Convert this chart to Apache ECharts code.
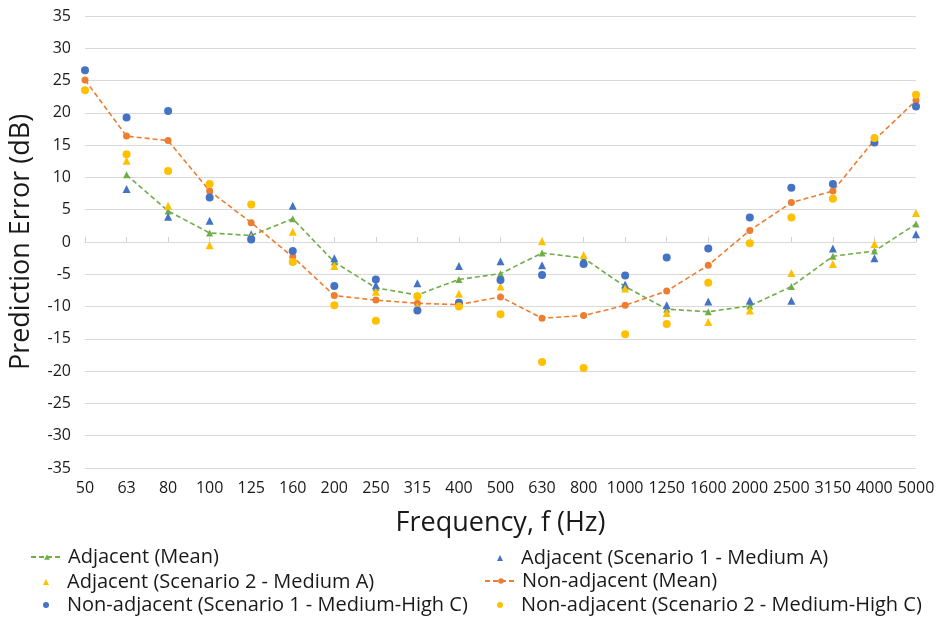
<!DOCTYPE html>
<html>
<head>
<meta charset="utf-8">
<script src="https://cdn.jsdelivr.net/npm/echarts@6/dist/echarts.min.js"></script>
<style>
  html, body { margin: 0; padding: 0; background: #fff; }
  #main { width: 938px; height: 619px; }
</style>
</head>
<body>
<div id="main"></div>
<script>
// 1/3 倍频程中心频率
var freqs = ['50', '63', '80', '100', '125', '160', '200', '250', '315', '400', '500',
    '630', '800', '1000', '1250', '1600', '2000', '2500', '3150', '4000', '5000'];

var adjMean = ['-', 10.4, 4.8, 1.4, 1.0, 3.6, -3.1, -7.1, -8.2, -5.8, -4.9,
    -1.7, -2.5, -6.9, -10.4, -10.8, -9.9, -6.9, -2.2, -1.4, 2.8];
var adjS1 = ['-', 8.2, 3.9, 3.3, 1.2, 5.6, -2.5, -6.7, -6.4, -3.7, -3.0,
    -3.6, -3.0, -6.6, -9.8, -9.2, -9.1, -9.1, -1.0, -2.5, 1.2];
var adjS2 = ['-', 12.6, 5.6, -0.5, 0.8, 1.6, -3.7, -7.7, -10.0, -8.0, -6.9,
    0.1, -2.0, -7.2, -11.0, -12.4, -10.6, -4.8, -3.4, -0.3, 4.5];
var nonMean = [25.1, 16.4, 15.7, 7.9, 3.0, -2.3, -8.3, -9.0, -9.5, -9.7, -8.5,
    -11.8, -11.4, -9.8, -7.6, -3.6, 1.8, 6.1, 7.9, 15.8, 21.9];
var nonS1 = [26.6, 19.3, 20.3, 6.9, 0.4, -1.4, -6.8, -5.8, -10.6, -9.4, -5.9,
    -5.1, -3.4, -5.2, -2.4, -1.0, 3.8, 8.4, 9.0, 15.4, 21.0];
var nonS2 = [23.5, 13.6, 11.0, 9.0, 5.8, -3.1, -9.8, -12.2, -8.4, -10.0, -11.2,
    -18.6, -19.5, -14.3, -12.7, -6.3, -0.2, 3.8, 6.7, 16.1, 22.8];

var names = [
    'Adjacent (Mean)',
    'Adjacent (Scenario 1 - Medium A)',
    'Adjacent (Scenario 2 - Medium A)',
    'Non-adjacent (Mean)',
    'Non-adjacent (Scenario 1 - Medium-High C)',
    'Non-adjacent (Scenario 2 - Medium-High C)'
];

var GREEN = '#70AD47', ORANGE = '#ED7D31', BLUE = '#4472C4', YELLOW = '#FFC000';
var FONT = 'Open Sans';
var TXT = '#1a1a1a';

var chart = echarts.init(document.getElementById('main'));

function lineSeries(name, data, color, symbol) {
    return {
        name: name,
        type: 'line',
        data: data,
        symbol: symbol,
        symbolSize: 7,
        showSymbol: true,
        connectNulls: false,
        itemStyle: { color: color },
        lineStyle: { color: color, width: 1.6, type: [5, 3] },
        z: 2
    };
}

function dotSeries(name, data, color, symbol, size) {
    return {
        name: name,
        type: 'scatter',
        data: data,
        symbol: symbol,
        symbolSize: size,
        itemStyle: { color: color, opacity: 1 },
        z: 3
    };
}

// 图例：两列三行，每项单独定位；散点图例只画小符号
var colX = [30, 484];
var rowY = [547, 571, 594];
var isLine = [true, false, false, true, false, false];
var legends = names.map(function(n, i) {
    var x = colX[i % 2], y = rowY[Math.floor(i / 2)];
    if (isLine[i]) {
        return {
            data: [n], left: x, top: y, padding: 0,
            itemWidth: 32, itemHeight: 7, selectedMode: false,
            textStyle: { fontFamily: FONT, fontSize: 20, color: TXT }
        };
    }
    return {
        data: [n], left: x + 13, top: y + 1, padding: 0,
        itemWidth: 6, itemHeight: 6, selectedMode: false,
        textStyle: { fontFamily: FONT, fontSize: 20, color: TXT, padding: [0, 0, 0, 13] }
    };
});

var option = {
    backgroundColor: '#fff',
    animation: false,
    grid: { left: 85, right: 22, top: 16, bottom: 151 },
    legend: legends,
    xAxis: {
        type: 'category',
        data: freqs,
        boundaryGap: false,
        name: 'Frequency, f (Hz)',
        nameLocation: 'middle',
        nameGap: 42,
        nameTextStyle: { fontFamily: FONT, fontSize: 27, color: TXT },
        axisLine: { lineStyle: { color: '#D9D9D9', width: 1 } },
        axisTick: { inside: true, length: 5, alignWithLabel: true, lineStyle: { color: '#D0D0D0' } },
        axisLabel: { fontFamily: FONT, fontSize: 16, color: TXT, margin: 12, interval: 0 },
        splitLine: { show: false }
    },
    yAxis: {
        type: 'value',
        min: -35, max: 35, interval: 5,
        name: 'Prediction Error (dB)',
        nameLocation: 'middle',
        nameGap: 50,
        nameTextStyle: { fontFamily: FONT, fontSize: 27, color: TXT },
        axisLine: { show: false },
        axisTick: { show: false },
        axisLabel: { fontFamily: FONT, fontSize: 16, color: TXT, margin: 14 },
        splitLine: { lineStyle: { color: '#D9D9D9', width: 1 } }
    },
    series: [
        lineSeries(names[0], adjMean, GREEN, 'triangle'),
        dotSeries(names[1], adjS1, BLUE, 'triangle', 8),
        dotSeries(names[2], adjS2, YELLOW, 'triangle', 8),
        lineSeries(names[3], nonMean, ORANGE, 'circle'),
        dotSeries(names[4], nonS1, BLUE, 'circle', 8),
        dotSeries(names[5], nonS2, YELLOW, 'circle', 8)
    ]
};

chart.setOption(option);
</script>
</body>
</html>
